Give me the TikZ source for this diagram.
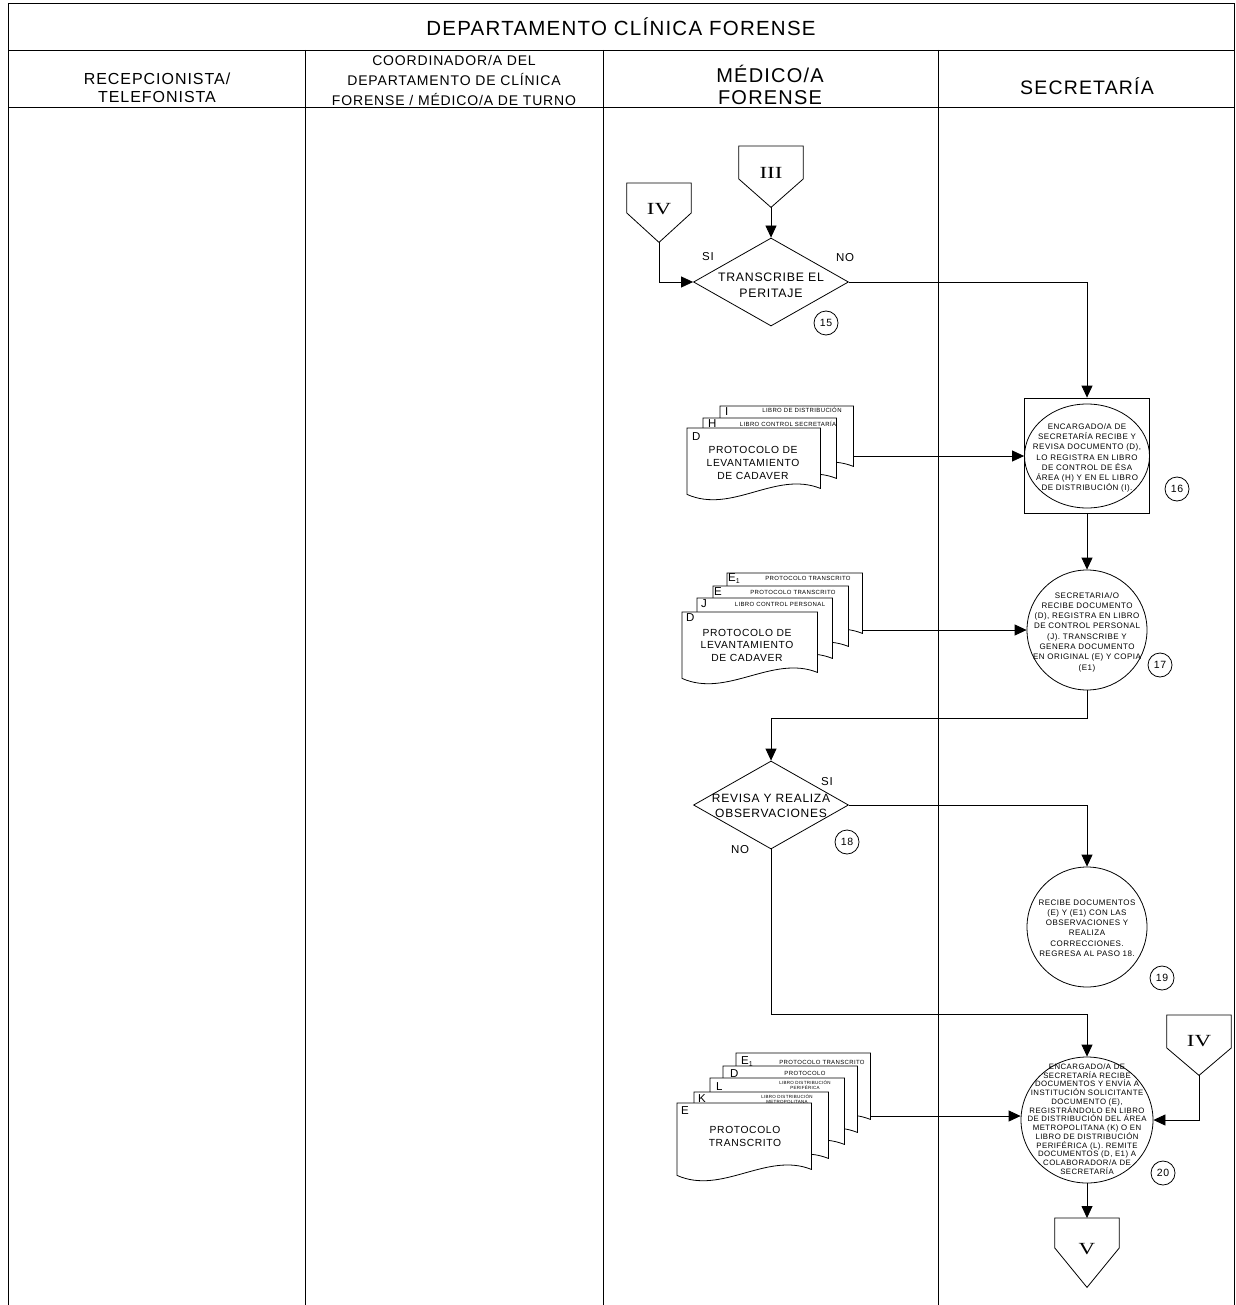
\documentclass[tikz,border=0pt]{standalone}
\usepackage{fontspec}
\setmainfont{Liberation Sans}[LetterSpace=6]
\newfontfamily\romanfont{Liberation Serif}
\usetikzlibrary{arrows.meta,calc,shapes.geometric}
\newcommand\fs[2]{\fontsize{#1}{#2}\selectfont}
% document shape: name, left, top, width, height
\newcommand\docshape[5]{%
  \node[docbox, minimum width=#4pt, minimum height=#5pt, anchor=north west] (#1) at (#2,#3) {};
  \draw[shapeline, fill=white] (#1.north west) -- (#1.north east) -- ($(#1.south east)+(0,-4)$)
    .. controls ($(#1.south east)+(-45,-22)$) and ($(#1.south west)+(45,22)$) .. ($(#1.south west)+(0,2)$) -- cycle;
}
% off-page connector: name, cx, top, rect height, total height, label
\newcommand\offpage[6]{%
  \node[offbox, minimum height=#5pt, anchor=north] (#1) at (#2,#3) {};
  \draw[shapeline, fill=white] (#1.north west) -- (#1.north east) -- ($(#1.north east)+(0,#4)$)
    -- (#1.south) -- ($(#1.north west)+(0,#4)$) -- cycle;
  \node[roman] (#1t) at ($(#1.center)+(0,-4)$) {\scalebox{1.35}[1]{#6}};
}
\newcommand\Eone{E\raisebox{-2pt}{\fs{7}{7}1}}
\begin{document}
\begin{tikzpicture}[x=1pt,y=-1pt,
 shapeline/.style={line width=0.8pt, draw=black},
 lane/.style={line width=0.8pt, draw=black},
 conn/.style={line width=0.8pt, draw=black, -{Triangle[length=12pt,width=11pt]}},
 dec/.style={diamond, shapeline, minimum width=155pt, minimum height=88pt, inner sep=0pt},
 proc/.style={ellipse, shapeline, inner sep=0pt},
 ptext/.style={align=center, inner sep=0pt, font=\fs{8}{10.3}},
 num/.style={circle, shapeline, minimum size=24pt, inner sep=0pt, font=\fs{10.5}{12}},
 docbox/.style={inner sep=0pt},
 offbox/.style={inner sep=0pt, minimum width=64pt},
 roman/.style={inner sep=0pt, font=\romanfont\fs{17}{17}},
 doctext/.style={align=center, inner sep=0pt, font=\fs{10.3}{13}},
 letter/.style={anchor=west, inner sep=0pt, font=\fs{11.5}{11.5}},
 small/.style={align=center, inner sep=0pt, font=\fs{6}{6}},
 tiny/.style={align=center, inner sep=0pt, font=\fs{4.5}{5}},
 yn/.style={inner sep=0pt, font=\fs{11.5}{11.5}},
 dtext/.style={align=center, inner sep=0pt, font=\fs{12.3}{16}},
]
\useasboundingbox (0,0) rectangle (1235,1305);
% frame
\draw[lane] (8,1305) -- (8,3) -- (1234,3) -- (1234,1305);
\draw[lane] (8,50) -- (1234,50);
\draw[lane] (8,107) -- (1234,107);
\draw[lane] (305,50) -- (305,1305);
\draw[lane] (603,50) -- (603,1305);
\draw[lane] (938,50) -- (938,1305);
% headers
\node[font=\fs{20.5}{24}] (title) at (621,27) {DEPARTAMENTO CLÍNICA FORENSE};
\node[align=center, font=\fs{16}{18}] (h1) at (157,88) {RECEPCIONISTA/\\TELEFONISTA};
\node[align=center, font=\fs{14}{20}] (h2) at (454,80) {COORDINADOR/A DEL\\DEPARTAMENTO DE CLÍNICA\\FORENSE / MÉDICO/A DE TURNO};
\node[align=center, font=\fs{20}{22}] (h3) at (770,85) {MÉDICO/A\\FORENSE};
\node[font=\fs{19.5}{22}] (h4) at (1087,86) {SECRETARÍA};
% step 15
\offpage{c3}{771}{146}{33}{61}{III}
\offpage{c4a}{659}{183}{30}{59}{IV}
\node[dec] (d15) at (771,282) {};
\node[dtext] (d15t) at (771,285) {TRANSCRIBE EL\\PERITAJE};
\node[yn] (si15) at (708,257) {SI};
\node[yn] (no15) at (845,258) {NO};
\node[num] (n15) at (826,323) {15};
% step 16
\node[shapeline, minimum width=125pt, minimum height=115pt, inner sep=0pt] (b16) at (1087,455.5) {};
\node[proc, minimum width=125pt, minimum height=104pt] (c16) at (1087,456) {};
\node[ptext] (c16t) at (1087,458) {ENCARGADO/A DE\\SECRETARÍA RECIBE Y\\REVISA DOCUMENTO (D),\\LO REGISTRA EN LIBRO\\DE CONTROL DE ÉSA\\ÁREA (H) Y EN EL LIBRO\\DE DISTRIBUCIÓN (I).};
\node[num] (n16) at (1177,489) {16};
% stack 1
\docshape{s1i}{720}{406}{133}{64}
\node[letter] (s1il) at (725,412) {I};
\node[small] (s1ix) at (802,410) {LIBRO DE DISTRIBUCIÓN};
\docshape{s1h}{703}{418}{133}{64}
\node[letter] (s1hl) at (708,424) {H};
\node[small] (s1hx) at (788,424) {LIBRO CONTROL SECRETARÍA};
\docshape{s1d}{687}{428}{133}{64}
\node[letter] (s1dl) at (692,437) {D};
\node[doctext] (s1dt) at (753,463) {PROTOCOLO DE\\LEVANTAMIENTO\\DE CADAVER};
\coordinate (s1o) at (853,456);
% step 17
\node[proc, minimum width=120pt, minimum height=120pt] (c17) at (1087,630) {};
\node[ptext] (c17t) at (1087,632) {SECRETARIA/O\\RECIBE DOCUMENTO\\(D), REGISTRA EN LIBRO\\DE CONTROL PERSONAL\\(J). TRANSCRIBE Y\\GENERA DOCUMENTO\\EN ORIGINAL (E) Y COPIA\\(E1)};
\node[num] (n17) at (1160,665) {17};
% stack 2
\docshape{s2e1}{727}{573}{135}{64}
\node[letter] (s2e1l) at (728,579) {\Eone};
\node[small] (s2e1x) at (808,578) {PROTOCOLO TRANSCRITO};
\docshape{s2e}{713}{586}{135}{64}
\node[letter] (s2el) at (714,592) {E};
\node[small] (s2ex) at (793,592) {PROTOCOLO TRANSCRITO};
\docshape{s2j}{697}{598}{135}{64}
\node[letter] (s2jl) at (701,604) {J};
\node[small] (s2jx) at (780,604) {LIBRO CONTROL PERSONAL};
\docshape{s2d}{682}{612}{135}{64}
\node[letter] (s2dl) at (686,618) {D};
\node[doctext, font=\fs{10.3}{12.5}] (s2dt) at (747,645) {PROTOCOLO DE\\LEVANTAMIENTO\\DE CADAVER};
\coordinate (s2o) at (862,630);
% step 18
\node[dec] (d18) at (771,805) {};
\node[dtext, font=\fs{12}{15}] (d18t) at (771,806) {REVISA Y REALIZA\\OBSERVACIONES};
\node[yn] (si18) at (827,782) {SI};
\node[yn] (no18) at (740,850) {NO};
\node[num] (n18) at (847,842) {18};
% step 19
\node[proc, minimum width=120pt, minimum height=120pt] (c19) at (1087,927) {};
\node[ptext] (c19t) at (1087,928) {RECIBE DOCUMENTOS\\(E) Y (E1) CON LAS\\OBSERVACIONES Y\\REALIZA\\CORRECCIONES.\\REGRESA AL PASO 18.};
\node[num] (n19) at (1162,978) {19};
% step 20
\node[proc, minimum width=132pt, minimum height=126pt] (c20) at (1087,1120) {};
\node[ptext, font=\fs{7.8}{8.75}] (c20t) at (1087,1119) {ENCARGADO/A DE\\SECRETARÍA RECIBE\\DOCUMENTOS Y ENVÍA A\\INSTITUCIÓN SOLICITANTE\\DOCUMENTO (E),\\REGISTRÁNDOLO EN LIBRO\\DE DISTRIBUCIÓN DEL ÁREA\\METROPOLITANA (K) O EN\\LIBRO DE DISTRIBUCIÓN\\PERIFÉRICA (L). REMITE\\DOCUMENTOS (D, E1) A\\COLABORADOR/A DE\\SECRETARÍA};
\node[num] (n20) at (1163,1173) {20};
\offpage{c4b}{1199}{1015}{33}{60}{IV}
\offpage{c5}{1087}{1218}{30}{69}{V}
% stack 3
\docshape{s3e1}{736}{1053}{134}{70}
\node[letter] (s3e1l) at (741,1062) {\Eone};
\node[small] (s3e1x) at (822,1062) {PROTOCOLO TRANSCRITO};
\docshape{s3d}{723}{1066}{134}{70}
\node[letter] (s3dl) at (730,1074) {D};
\node[small] (s3dx) at (805,1073) {PROTOCOLO};
\docshape{s3l}{710}{1078}{134}{70}
\node[letter] (s3ll) at (716,1087) {L};
\node[tiny] (s3lx) at (805,1085.5) {LIBRO DISTRIBUCIÓN\\PERIFÉRICA};
\docshape{s3k}{694}{1092}{134}{70}
\node[letter] (s3kl) at (698,1099) {K};
\node[tiny] (s3kx) at (787,1099.5) {LIBRO DISTRIBUCIÓN\\METROPOLITANA};
\docshape{s3e}{677}{1103}{134}{70}
\node[letter] (s3el) at (681,1111) {E};
\node[doctext] (s3et) at (745,1136.5) {PROTOCOLO\\TRANSCRITO};
\coordinate (s3o) at (870,1116);
% connectors
\draw[conn] (c3.south) -- (d15.north);
\draw[conn] (c4a.south) |- (d15.west);
\draw[conn] (d15.east) -| (b16.north);
\draw[conn] (s1o) -- (s1o -| b16.west);
\draw[conn] (b16.south) -- (c17.north);
\draw[conn] (s2o) -- (s2o -| c17.west);
\draw[conn] (c17.south) -- ++(0,28) -| (d18.north);
\draw[conn] (d18.east) -| (c19.north);
\draw[conn] (d18.south) |- ($(c20.north)+(0,-42)$) -- (c20.north);
\draw[conn] (s3o) -- (s3o -| c20.west);
\draw[conn] (c4b.south) |- (c20.east);
\draw[conn] (c20.south) -- (c5.north);
\end{tikzpicture}
\end{document}
